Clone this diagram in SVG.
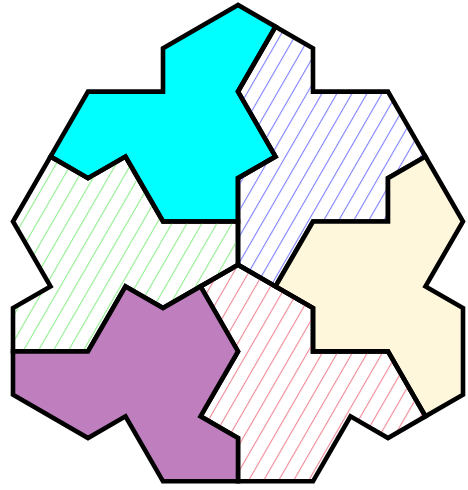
<svg xmlns="http://www.w3.org/2000/svg" width="468" height="490" viewBox="0 0 468 490">
<style>
.t{stroke:#000;stroke-width:4.6;stroke-linejoin:miter;stroke-miterlimit:10}
</style>
<defs>
<pattern id="hb" patternUnits="userSpaceOnUse" width="13" height="13" patternTransform="rotate(30)"><line x1="0.5" y1="0" x2="0.5" y2="13" stroke="#8080ff" stroke-width="1.2"/></pattern>
<pattern id="hg" patternUnits="userSpaceOnUse" width="13" height="13" patternTransform="rotate(30)"><line x1="0.5" y1="0" x2="0.5" y2="13" stroke="#90ee90" stroke-width="1.2"/></pattern>
<pattern id="hp" patternUnits="userSpaceOnUse" width="13" height="13" patternTransform="rotate(30)"><line x1="0.5" y1="0" x2="0.5" y2="13" stroke="#f08898" stroke-width="1.2"/></pattern>
</defs>
<rect width="468" height="490" fill="#fff"/>
<g id="cyan"><path class="t" fill="#00ffff" d="M238,5 L163,48.3 L163,91.6 L88,91.6 L50.5,156.55 L88,178.2 L125.5,156.55 L163,221.5 L238,221.5 L238,178.2 L275.5,156.55 L238,91.6 L275.5,26.65 Z"/></g>
<g id="blue"><path class="t" fill="url(#hb)" d="M275.5,26.65 L313,48.3 L313,91.6 L388,91.6 L425.5,156.55 L388,178.2 L388,221.5 L313,221.5 L275.5,286.45 L238,264.8 L238,178.2 L275.5,156.55 L238,91.6 Z"/></g>
<g id="green"><path class="t" fill="url(#hg)" d="M50.5,156.55 L88,178.2 L125.5,156.55 L163,221.5 L238,221.5 L238,264.8 L200.5,286.45 L163,308.1 L125.5,286.45 L88,351.4 L13,351.4 L13,308.1 L50.5,286.45 L13,221.5 Z"/></g>
<g id="cream"><path class="t" fill="#fff7dc" d="M313,221.5 L388,221.5 L388,178.2 L425.5,156.55 L463,221.5 L425.5,286.45 L463,308.1 L463,394.7 L425.5,416.35 L388,351.4 L313,351.4 L313,308.1 L275.5,286.45 Z"/></g>
<g id="pink"><path class="t" fill="url(#hp)" d="M238,264.8 L313,308.1 L313,351.4 L388,351.4 L425.5,416.35 L388,438 L350.5,416.35 L313,481.3 L238,481.3 L238,438 L200.5,416.35 L238,351.4 L200.5,286.45 Z"/></g>
<g id="purple"><path class="t" fill="#bf7fbf" d="M125.5,286.45 L163,308.1 L200.5,286.45 L238,351.4 L200.5,416.35 L238,438 L238,481.3 L163,481.3 L125.5,416.35 L88,438 L13,394.7 L13,351.4 L88,351.4 Z"/></g>
<g id="connectors"></g>
</svg>
